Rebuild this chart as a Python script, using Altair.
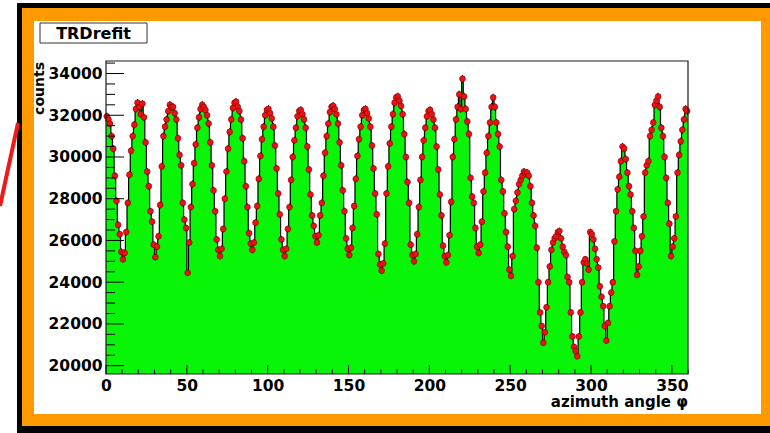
import altair as alt
import pandas as pd

# Counts per 1-degree bin of the azimuth angle, in 20-degree groups
counts_000 = [31950, 31800, 31600, 31000, 30400, 29100, 27900, 26750, 26300, 25450,
              25100, 25400, 26400, 27800, 29150, 30300, 31000, 31550, 32300, 32600]
counts_020 = [32400, 32050, 32550, 31900, 30700, 29300, 28600, 27400, 26900, 25800,
              25200, 25700, 26200, 27700, 29550, 31000, 31450, 31800, 32200, 32500]
counts_040 = [32400, 32400, 32100, 31800, 30900, 30100, 29600, 27800, 27000, 26600,
              24450, 25900, 27600, 28700, 29700, 30600, 31400, 31900, 32300, 32500]
counts_060 = [32400, 32250, 32000, 31600, 30700, 29600, 28400, 27400, 26050, 25550,
              25250, 25600, 26550, 28000, 29300, 30400, 31200, 31800, 32350, 32600]
counts_080 = [32650, 32400, 32200, 31800, 30900, 29800, 28600, 27600, 26350, 25850,
              25550, 25900, 26850, 27650, 28950, 30050, 30850, 31450, 32000, 32250]
counts_100 = [32300, 32100, 31850, 31450, 30550, 29450, 28250, 27250, 26050, 25550,
              25250, 25600, 26550, 27600, 28900, 30000, 30800, 31400, 31950, 32200]
counts_120 = [32250, 32050, 31800, 31400, 30500, 29400, 28200, 27200, 26700, 26200,
              25900, 26250, 27200, 27800, 29100, 30200, 31000, 31600, 32150, 32400]
counts_140 = [32450, 32300, 32050, 31600, 30700, 29600, 28400, 27400, 26100, 25600,
              25300, 25650, 26600, 27650, 28950, 30050, 30850, 31450, 32000, 32250]
counts_160 = [32300, 32100, 31850, 31450, 30550, 29450, 28250, 27250, 25350, 24850,
              24550, 24900, 25850, 28250, 29550, 30650, 31450, 32050, 32600, 32850]
counts_180 = [32900, 32700, 32450, 32050, 31100, 30000, 28800, 27800, 25800, 25300,
              25000, 25350, 26300, 27600, 28900, 30000, 30800, 31400, 31950, 32200]
counts_200 = [32250, 32050, 31800, 31400, 30500, 29400, 28200, 27200, 25750, 25250,
              24950, 25300, 26250, 27850, 30000, 30850, 31800, 32400, 33000, 32300]
counts_220 = [33750, 32900, 32300, 31700, 31100, 29000, 28100, 27800, 26600, 25700,
              25400, 25800, 26900, 28350, 29250, 30200, 31000, 31650, 32400, 32850]
counts_240 = [32400, 31650, 31100, 30500, 28900, 28350, 27300, 26400, 25700, 24600,
              24300, 25250, 27500, 27900, 28300, 28700, 28900, 29100, 29300, 29200]
counts_260 = [29250, 29100, 28600, 27800, 27200, 26700, 25650, 24000, 22550, 21900,
              21100, 21600, 22800, 24000, 24750, 25550, 25900, 26100, 26200, 26400]
counts_280 = [26450, 26100, 25700, 25450, 25300, 24250, 24000, 22550, 21400, 20900,
              20700, 20450, 21400, 22550, 24000, 24950, 25100, 24900, 24600, 26400]
counts_300 = [26300, 26050, 25600, 25100, 24700, 23800, 23300, 22850, 21900, 21200,
              22050, 22850, 23500, 24000, 25950, 27400, 28450, 29050, 29800, 30500]
counts_320 = [30400, 29900, 29250, 28600, 28200, 27400, 26600, 25500, 24350, 24750,
              25500, 26200, 27150, 29250, 29600, 29800, 31000, 31300, 31650, 32500]
counts_340 = [32700, 32900, 32400, 31400, 31000, 30000, 29000, 27800, 26800, 25250,
              25700, 26100, 27150, 29250, 30100, 30750, 31300, 31800, 32300, 32200]

x_labels = [0, 50, 100, 150, 200, 250, 300, 350]
y_labels = [20000, 22000, 24000, 26000, 28000, 30000, 32000, 34000]

counts = (counts_000 + counts_020 + counts_040 + counts_060 + counts_080 + counts_100 +
          counts_120 + counts_140 + counts_160 + counts_180 + counts_200 + counts_220 +
          counts_240 + counts_260 + counts_280 + counts_300 + counts_320 + counts_340)

W, H = 582, 313
GREEN = "#08f508"
ORANGE = "#ff9900"
FONT = "DejaVu Sans"

bins = pd.DataFrame({
    "mid": [i + 0.5 for i in range(360)],
    "counts": counts,
})
bins["err_lo"] = bins["counts"] - bins["counts"] ** 0.5
bins["err_hi"] = bins["counts"] + bins["counts"] ** 0.5

# bin edges for the stepped histogram (last bin repeated to close at 360)
edges = pd.DataFrame({"edge": list(range(361)), "counts": counts + [counts[-1]]})

x_ticks = pd.DataFrame({"tx": list(range(0, 361, 10))})
x_ticks["major"] = x_ticks["tx"] % 50 == 0
y_ticks = pd.DataFrame({"ty": list(range(20000, 34501, 500))})
y_ticks["major"] = y_ticks["ty"] % 2000 == 0

xs = alt.Scale(domain=[0, 360], nice=False, zero=False)
ys = alt.Scale(domain=[19600, 34600], nice=False, zero=False)
x_axis = alt.Axis(values=x_labels, format="d", title=None, ticks=False, domain=False,
                  grid=False, labelFont=FONT, labelFontWeight="bold", labelFontSize=15.5,
                  labelColor="black", labelPadding=4, labelFlush=False, labelOverlap=False,
                  zindex=2)
y_axis = alt.Axis(values=y_labels, format="d", title=None, ticks=False, domain=False,
                  grid=False, labelFont=FONT, labelFontWeight="bold", labelFontSize=15.5,
                  labelColor="black", labelPadding=4, labelOverlap=False, zindex=2)

one = pd.DataFrame({"k": [0]})


def box(x, x2, y, y2, **kw):
    return alt.Chart(one).mark_rect(**kw).encode(
        x=alt.value(x), x2=alt.value(x2), y=alt.value(y), y2=alt.value(y2))


# Slide frame: black rim, orange band, white canvas
frame_black = box(-89, 680, -58, 380, color="black")
frame_orange = box(-84, 680, -53, 365, color=ORANGE)
canvas = box(-72, 655, -40, 353, color="white")

pointer = alt.Chart(one).mark_rule(color="#f01818", strokeWidth=4).encode(
    x=alt.value(-106), x2=alt.value(-88), y=alt.value(145), y2=alt.value(62))

title_box = box(-66, 41, -38, -18, fill="white", stroke="#333333", strokeWidth=1)
title_text = alt.Chart(one).mark_text(
    text="TRDrefit", font=FONT, fontWeight="bold", fontSize=16, color="black",
    align="center", baseline="middle").encode(x=alt.value(-12.5), y=alt.value(-27.5))

hist = alt.Chart(edges).mark_area(interpolate="step-after", color=GREEN, clip=True).encode(
    x=alt.X("edge:Q", scale=xs, axis=x_axis),
    y=alt.Y("counts:Q", scale=ys, axis=y_axis, stack=None),
    y2=alt.value(H),
)

hist_line = alt.Chart(edges).mark_line(
    interpolate="step-after", color="black", strokeWidth=1.2).encode(
    x=alt.X("edge:Q", scale=xs, axis=x_axis),
    y=alt.Y("counts:Q", scale=ys, axis=y_axis),
)

err = alt.Chart(bins).mark_rule(color="black", strokeWidth=1).encode(
    x=alt.X("mid:Q", scale=xs, axis=x_axis),
    y=alt.Y("err_lo:Q", scale=ys, axis=y_axis),
    y2="err_hi:Q",
)

points = alt.Chart(bins).mark_point(
    filled=True, shape="circle", size=34, fill="#ee1111", stroke="#7a0000",
    strokeWidth=0.6, opacity=1).encode(
    x=alt.X("mid:Q", scale=xs, axis=x_axis),
    y=alt.Y("counts:Q", scale=ys, axis=y_axis),
)

x_major = alt.Chart(x_ticks).transform_filter("datum.major").mark_rule(
    color="black", strokeWidth=1).encode(
    x=alt.X("tx:Q", scale=xs, axis=x_axis), y=alt.value(H), y2=alt.value(H - 9))
x_minor = alt.Chart(x_ticks).transform_filter("!datum.major").mark_rule(
    color="black", strokeWidth=1).encode(
    x=alt.X("tx:Q", scale=xs, axis=x_axis), y=alt.value(H), y2=alt.value(H - 4.5))
y_major = alt.Chart(y_ticks).transform_filter("datum.major").mark_rule(
    color="black", strokeWidth=1).encode(
    y=alt.Y("ty:Q", scale=ys, axis=y_axis), x=alt.value(0), x2=alt.value(18))
y_minor = alt.Chart(y_ticks).transform_filter("!datum.major").mark_rule(
    color="black", strokeWidth=1).encode(
    y=alt.Y("ty:Q", scale=ys, axis=y_axis), x=alt.value(0), x2=alt.value(9))

plot_frame = box(0, W, 0, H, fill="transparent", stroke="#1a1a1a", strokeWidth=1.2)

y_title = alt.Chart(one).mark_text(
    text="counts", font=FONT, fontWeight="bold", fontSize=14, color="black",
    angle=270, align="right", baseline="middle").encode(x=alt.value(-66), y=alt.value(1))
x_title = alt.Chart(one).mark_text(
    text="azimuth angle \u03c6", font=FONT, fontWeight="bold", fontSize=15, color="black",
    align="right", baseline="middle").encode(x=alt.value(W), y=alt.value(341))

chart = alt.layer(
    frame_black, frame_orange, canvas, pointer, title_box, title_text,
    hist, hist_line, err, points, x_major, x_minor, y_major, y_minor, plot_frame,
    y_title, x_title,
).properties(
    width=W, height=H,
    autosize=alt.AutoSizeParams(type="none"),
    padding={"left": 106, "top": 61, "right": 82, "bottom": 59},
    background="white",
).configure_view(stroke=None)

chart.save("out.html", embed_options={"renderer": "svg", "actions": False})
